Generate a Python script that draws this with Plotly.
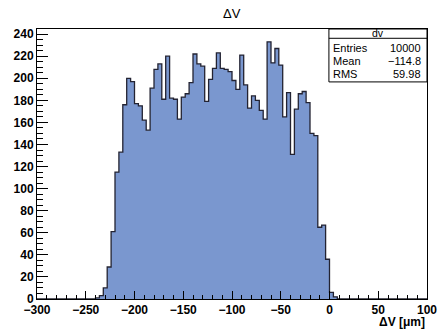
import plotly.graph_objects as go

# histogram definition
x_low = -300
x_high = 100
bin_width = 4
counts = [
    0, 0, 0, 0, 0, 0, 0, 0, 0, 0,
    0, 0, 0, 0, 0, 1, 3, 10, 29, 61,
    115, 133, 176, 200, 197, 177, 175, 162, 153, 191,
    208, 213, 181, 220, 182, 181, 163, 183, 186, 196,
    222, 213, 211, 179, 199, 209, 223, 209, 208, 206,
    198, 190, 221, 194, 173, 184, 180, 171, 163, 233,
    214, 227, 212, 165, 187, 131, 172, 186, 188, 178,
    150, 148, 65, 67, 36, 6, 2, 0, 0, 0,
    0, 0, 0, 0, 0, 0, 0, 0, 0, 0,
    0, 0, 0, 0, 0, 0, 0, 0, 0, 0,
]
stats_name = "dv"
stats_labels = ["Entries", "Mean", "RMS"]
stats_values = ["10000", "\u2212114.8", "59.98"]
title_text = "\u0394V"
xaxis_title = "\u0394V [\u03bcm]"
x_ticks = [-300, -250, -200, -150, -100, -50, 0, 50, 100]
y_ticks = list(range(0, 241, 20))

edges = [x_low + i * bin_width for i in range(len(counts) + 1)]
step_x = edges
step_y = counts + [counts[-1]]

fill = "rgb(122,151,207)"
outline = "rgb(35,35,50)"
font_main = "Liberation Sans, Arial, Helvetica, sans-serif"

fig = go.Figure()
fig.add_trace(go.Scatter(
    x=step_x, y=step_y, mode="lines", line_shape="hv",
    line=dict(color=outline, width=1.3),
    fill="tozeroy", fillcolor=fill, hoverinfo="skip", showlegend=False,
))

ymax = max(counts) * 1.05

fig.update_layout(
    width=448, height=332,
    margin=dict(l=37, r=11, t=29, b=33),
    paper_bgcolor="white", plot_bgcolor="white",
    showlegend=False,
    font=dict(family=font_main, color="black"),
)
fig.update_xaxes(
    range=[x_low, x_high], tickvals=x_ticks,
    ticks="inside", ticklen=8, tickwidth=1, tickcolor="black",
    minor=dict(dtick=10, tick0=0, ticks="inside", ticklen=4, tickcolor="black", tickwidth=1),
    showline=True, linecolor="black", linewidth=1, mirror=True,
    showgrid=False, zeroline=False,
    tickfont=dict(size=12, family=font_main, weight="bold"),
)
fig.update_yaxes(
    range=[0, ymax], tickvals=y_ticks,
    ticks="inside", ticklen=11, tickwidth=1, tickcolor="black",
    minor=dict(dtick=5, tick0=0, ticks="inside", ticklen=6, tickcolor="black", tickwidth=1),
    showline=True, linecolor="black", linewidth=1, mirror=True,
    showgrid=False, zeroline=False,
    tickfont=dict(size=12, family=font_main, weight="bold"),
)

# title
fig.add_annotation(x=0.5, y=1.0, xref="paper", yref="paper", yshift=16,
                   text=title_text, showarrow=False,
                   font=dict(size=13, family=font_main), xanchor="center", yanchor="middle")
# x-axis title
fig.add_annotation(x=1.0, y=0, xref="paper", yref="paper", yshift=-23,
                   text=xaxis_title, showarrow=False,
                   font=dict(size=12, family=font_main, weight="bold"),
                   xanchor="right", yanchor="middle")

# stats box
bx0, bx1 = 0.7485, 1.0
by0, by1 = 0.804, 1.0
sep = 0.9656
fig.add_shape(type="rect", xref="paper", yref="paper", x0=bx0, x1=bx1, y0=by0, y1=by1,
              line=dict(color="black", width=1), fillcolor="white", layer="above")
fig.add_shape(type="line", xref="paper", yref="paper", x0=bx0, x1=bx1, y0=sep, y1=sep,
              line=dict(color="black", width=1), layer="above")
fig.add_annotation(x=(bx0 + bx1) / 2, y=(sep + by1) / 2, xref="paper", yref="paper",
                   text=stats_name, showarrow=False, font=dict(size=10.5, family=font_main),
                   xanchor="center", yanchor="middle", yshift=0.5)
row_y = [0.9286, 0.8815, 0.835]
for lab, val, yy in zip(stats_labels, stats_values, row_y):
    fig.add_annotation(x=bx0 + 0.005, y=yy, xref="paper", yref="paper", text=lab,
                       showarrow=False, font=dict(size=11, family=font_main),
                       xanchor="left", yanchor="middle")
    fig.add_annotation(x=bx1 - 0.01, y=yy, xref="paper", yref="paper", text=val,
                       showarrow=False, font=dict(size=11, family=font_main),
                       xanchor="right", yanchor="middle")

fig.write_html(
    "out.html",
    config={"displayModeBar": False},
    post_script="document.body.style.margin='0';document.body.style.padding='0';document.body.style.overflow='hidden';",
)
